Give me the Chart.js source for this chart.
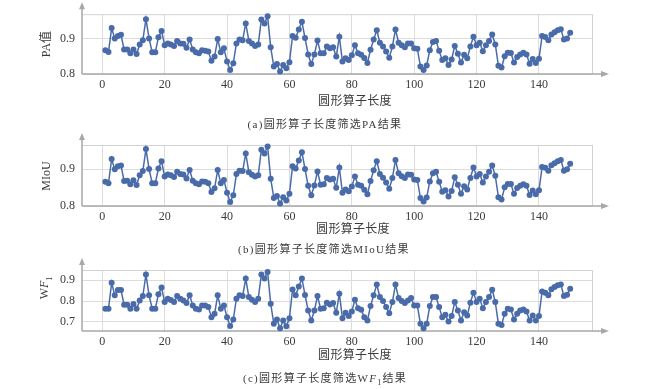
<!DOCTYPE html>
<html><head><meta charset="utf-8">
<script src="https://cdn.jsdelivr.net/npm/chart.js@4.4.0/dist/chart.umd.min.js"></script>
<style>
body{margin:0;background:#fff;width:650px;height:389px;position:relative;overflow:hidden;font-family:"Liberation Serif","Noto Sans CJK SC",serif;color:#3a3a3a;}
canvas{position:absolute;left:0;}
.t{position:absolute;white-space:nowrap;transform:translate(-50%,-50%);font-size:12px;line-height:1;letter-spacing:0.3px;}
.cap{position:absolute;white-space:nowrap;transform:translate(-50%,-50%);font-size:11px;letter-spacing:1.3px;line-height:1;}
.yt{position:absolute;white-space:nowrap;transform:translate(-50%,-50%) rotate(-90deg);font-size:12px;line-height:1;}
sub{font-size:8px;}
</style>
</head><body>
<canvas id="ca" width="650" height="96" style="top:0px"></canvas>
<canvas id="cb" width="650" height="96" style="top:130px"></canvas>
<canvas id="cc" width="650" height="96" style="top:255px"></canvas>

<div class="yt" style="left:46px;top:44px">PA值</div>
<div class="t" style="left:355px;top:101px">圆形算子长度</div>
<div class="cap" style="left:325px;top:124px">(a)圆形算子长度筛选PA结果</div>

<div class="yt" style="left:46px;top:176px">MIoU</div>
<div class="t" style="left:353px;top:229px">圆形算子长度</div>
<div class="cap" style="left:324px;top:249px">(b)圆形算子长度筛选MIoU结果</div>

<div class="yt" style="left:46px;top:288px">W<i>F</i><sub>1</sub></div>
<div class="t" style="left:355px;top:355px">圆形算子长度</div>
<div class="cap" style="left:325px;top:380px">(c)圆形算子长度筛选W<i>F</i><sub>1</sub>结果</div>

<script>
// categories: circular operator length
const lengths = Array.from({length:150}, (_, i) => i + 1);
const xTicks = [0, 20, 40, 60, 80, 100, 120, 140];

const paValues = [
 0.867,0.862,0.929,0.900,0.907,0.910,0.869,0.869,0.858,0.869,
 0.856,0.883,0.895,0.954,0.900,0.861,0.861,0.903,0.921,0.881,
 0.886,0.883,0.879,0.893,0.886,0.885,0.874,0.897,0.869,0.861,
 0.858,0.867,0.865,0.863,0.837,0.849,0.898,0.861,0.872,0.835,
 0.811,0.830,0.886,0.897,0.895,0.942,0.893,0.886,0.879,0.883,
 0.953,0.942,0.962,0.875,0.821,0.828,0.807,0.825,0.816,0.833,
 0.907,0.902,0.925,0.947,0.901,0.855,0.828,0.855,0.894,0.858,
 0.858,0.877,0.872,0.875,0.849,0.905,0.835,0.844,0.839,0.853,
 0.881,0.858,0.854,0.845,0.831,0.868,0.897,0.923,0.888,0.877,
 0.863,0.846,0.877,0.925,0.888,0.881,0.875,0.886,0.886,0.872,
 0.871,0.821,0.811,0.824,0.867,0.890,0.893,0.865,0.839,0.844,
 0.825,0.841,0.879,0.857,0.832,0.854,0.844,0.877,0.905,0.881,
 0.888,0.864,0.881,0.893,0.911,0.883,0.823,0.818,0.850,0.860,
 0.859,0.832,0.848,0.855,0.860,0.855,0.829,0.842,0.831,0.843,
 0.907,0.904,0.895,0.911,0.917,0.923,0.926,0.897,0.900,0.916];

const miouValues = [
 0.866,0.862,0.928,0.900,0.908,0.910,0.868,0.869,0.859,0.870,
 0.857,0.884,0.895,0.955,0.901,0.862,0.862,0.902,0.922,0.880,
 0.886,0.884,0.879,0.893,0.887,0.886,0.875,0.898,0.869,0.862,
 0.859,0.867,0.866,0.862,0.838,0.848,0.898,0.862,0.871,0.836,
 0.811,0.829,0.887,0.896,0.895,0.943,0.892,0.885,0.880,0.884,
 0.953,0.943,0.962,0.874,0.822,0.827,0.807,0.824,0.815,0.833,
 0.908,0.902,0.924,0.946,0.901,0.855,0.829,0.856,0.894,0.858,
 0.859,0.876,0.872,0.874,0.850,0.905,0.836,0.845,0.840,0.853,
 0.880,0.858,0.855,0.844,0.832,0.868,0.897,0.922,0.887,0.877,
 0.864,0.847,0.876,0.925,0.889,0.881,0.876,0.886,0.885,0.872,
 0.871,0.822,0.812,0.823,0.867,0.889,0.893,0.866,0.839,0.843,
 0.826,0.841,0.878,0.858,0.833,0.854,0.845,0.876,0.905,0.880,
 0.887,0.864,0.880,0.893,0.910,0.882,0.824,0.818,0.851,0.860,
 0.860,0.833,0.849,0.855,0.859,0.855,0.830,0.842,0.832,0.843,
 0.906,0.904,0.896,0.911,0.916,0.922,0.925,0.896,0.900,0.915];

const wf1Values = [
 0.763,0.763,0.887,0.828,0.852,0.852,0.782,0.782,0.763,0.786,
 0.763,0.803,0.824,0.927,0.827,0.763,0.763,0.832,0.864,0.795,
 0.811,0.805,0.795,0.824,0.811,0.803,0.790,0.828,0.779,0.763,
 0.760,0.779,0.779,0.771,0.723,0.739,0.827,0.763,0.779,0.723,
 0.681,0.712,0.811,0.827,0.824,0.907,0.819,0.806,0.795,0.811,
 0.927,0.907,0.939,0.787,0.691,0.712,0.670,0.707,0.680,0.718,
 0.855,0.827,0.869,0.907,0.829,0.755,0.707,0.755,0.824,0.763,
 0.766,0.792,0.784,0.790,0.744,0.835,0.718,0.744,0.728,0.750,
 0.806,0.766,0.758,0.723,0.707,0.776,0.827,0.879,0.819,0.800,
 0.771,0.742,0.795,0.879,0.814,0.800,0.790,0.803,0.814,0.779,
 0.779,0.691,0.670,0.691,0.776,0.819,0.819,0.771,0.723,0.734,
 0.702,0.728,0.795,0.755,0.707,0.747,0.731,0.792,0.840,0.795,
 0.811,0.766,0.795,0.819,0.854,0.795,0.691,0.686,0.739,0.763,
 0.760,0.712,0.739,0.755,0.760,0.750,0.707,0.731,0.707,0.728,
 0.846,0.840,0.827,0.856,0.867,0.875,0.879,0.824,0.830,0.859];

const paTicks = [0.8, 0.9];
const miouTicks = [0.8, 0.9];
const wf1Ticks = [0.7, 0.8, 0.9];

const BLUE = '#4a6ba9';

const framePlugin = {
  id: 'frame',
  beforeDatasetsDraw(chart) {
    const {ctx, chartArea: a} = chart;
    ctx.save();
    ctx.strokeStyle = '#d2d2d2';
    ctx.lineWidth = 1;
    ctx.beginPath();
    ctx.moveTo(a.left, a.top + 0.5); ctx.lineTo(a.right, a.top + 0.5);
    ctx.moveTo(a.right + 0.5, a.top); ctx.lineTo(a.right + 0.5, a.bottom);
    ctx.stroke();
    ctx.strokeStyle = '#a8a8a8';
    ctx.fillStyle = '#a8a8a8';
    ctx.lineWidth = 1.5;
    ctx.beginPath();
    ctx.moveTo(a.left, a.bottom); ctx.lineTo(a.left, a.top - 8);
    ctx.moveTo(a.left, a.bottom); ctx.lineTo(a.right + 12, a.bottom);
    ctx.stroke();
    ctx.beginPath();
    ctx.moveTo(a.left, a.top - 12); ctx.lineTo(a.left - 3, a.top - 5); ctx.lineTo(a.left + 3, a.top - 5); ctx.closePath();
    ctx.fill();
    ctx.beginPath();
    ctx.moveTo(a.right + 17, a.bottom); ctx.lineTo(a.right + 9, a.bottom - 3); ctx.lineTo(a.right + 9, a.bottom + 3); ctx.closePath();
    ctx.fill();
    ctx.restore();
  }
};

function makePanel(id, canvasTop, areaTop, areaBottom, values, ymin, ymax, yTicks) {
  const H = 96;
  const xAxisH = H - (areaBottom - canvasTop);
  new Chart(document.getElementById(id), {
    type: 'line',
    data: {
      datasets: [{
        data: lengths.map((x, i) => ({x: x, y: values[i]})),
        borderColor: BLUE,
        backgroundColor: BLUE,
        borderWidth: 1.5,
        pointRadius: 3,
        pointBorderWidth: 0,
        pointBackgroundColor: BLUE,
        tension: 0,
        clip: false
      }]
    },
    options: {
      responsive: false,
      animation: false,
      devicePixelRatio: 1,
      layout: {padding: {left: 0, right: 58, top: areaTop - canvasTop, bottom: 0}},
      plugins: {legend: {display: false}, tooltip: {enabled: false}},
      scales: {
        x: {
          type: 'linear', min: -6.5, max: 157,
          afterBuildTicks: s => { s.ticks = xTicks.map(v => ({value: v})); },
          afterFit: s => { s.height = xAxisH; },
          grid: {color: '#dcdcdc', drawTicks: false},
          border: {display: false},
          ticks: {padding: 4, color: '#3a3a3a', font: {family: 'Liberation Serif', size: 12}, maxRotation: 0}
        },
        y: {
          min: ymin, max: ymax,
          afterBuildTicks: s => { s.ticks = yTicks.map(v => ({value: v})); },
          afterFit: s => { s.width = 82; },
          grid: {color: '#dcdcdc', drawTicks: false},
          border: {display: false},
          ticks: {padding: 7, color: '#3a3a3a', font: {family: 'Liberation Serif', size: 12}, callback: v => v.toFixed(1)}
        }
      }
    },
    plugins: [framePlugin]
  });
}

makePanel('ca', 0, 14, 74, paValues, 0.8, 0.968, paTicks);
makePanel('cb', 130, 145, 206, miouValues, 0.8, 0.966, miouTicks);
makePanel('cc', 255, 270, 331, wf1Values, 0.657, 0.948, wf1Ticks);
</script>
</body></html>
